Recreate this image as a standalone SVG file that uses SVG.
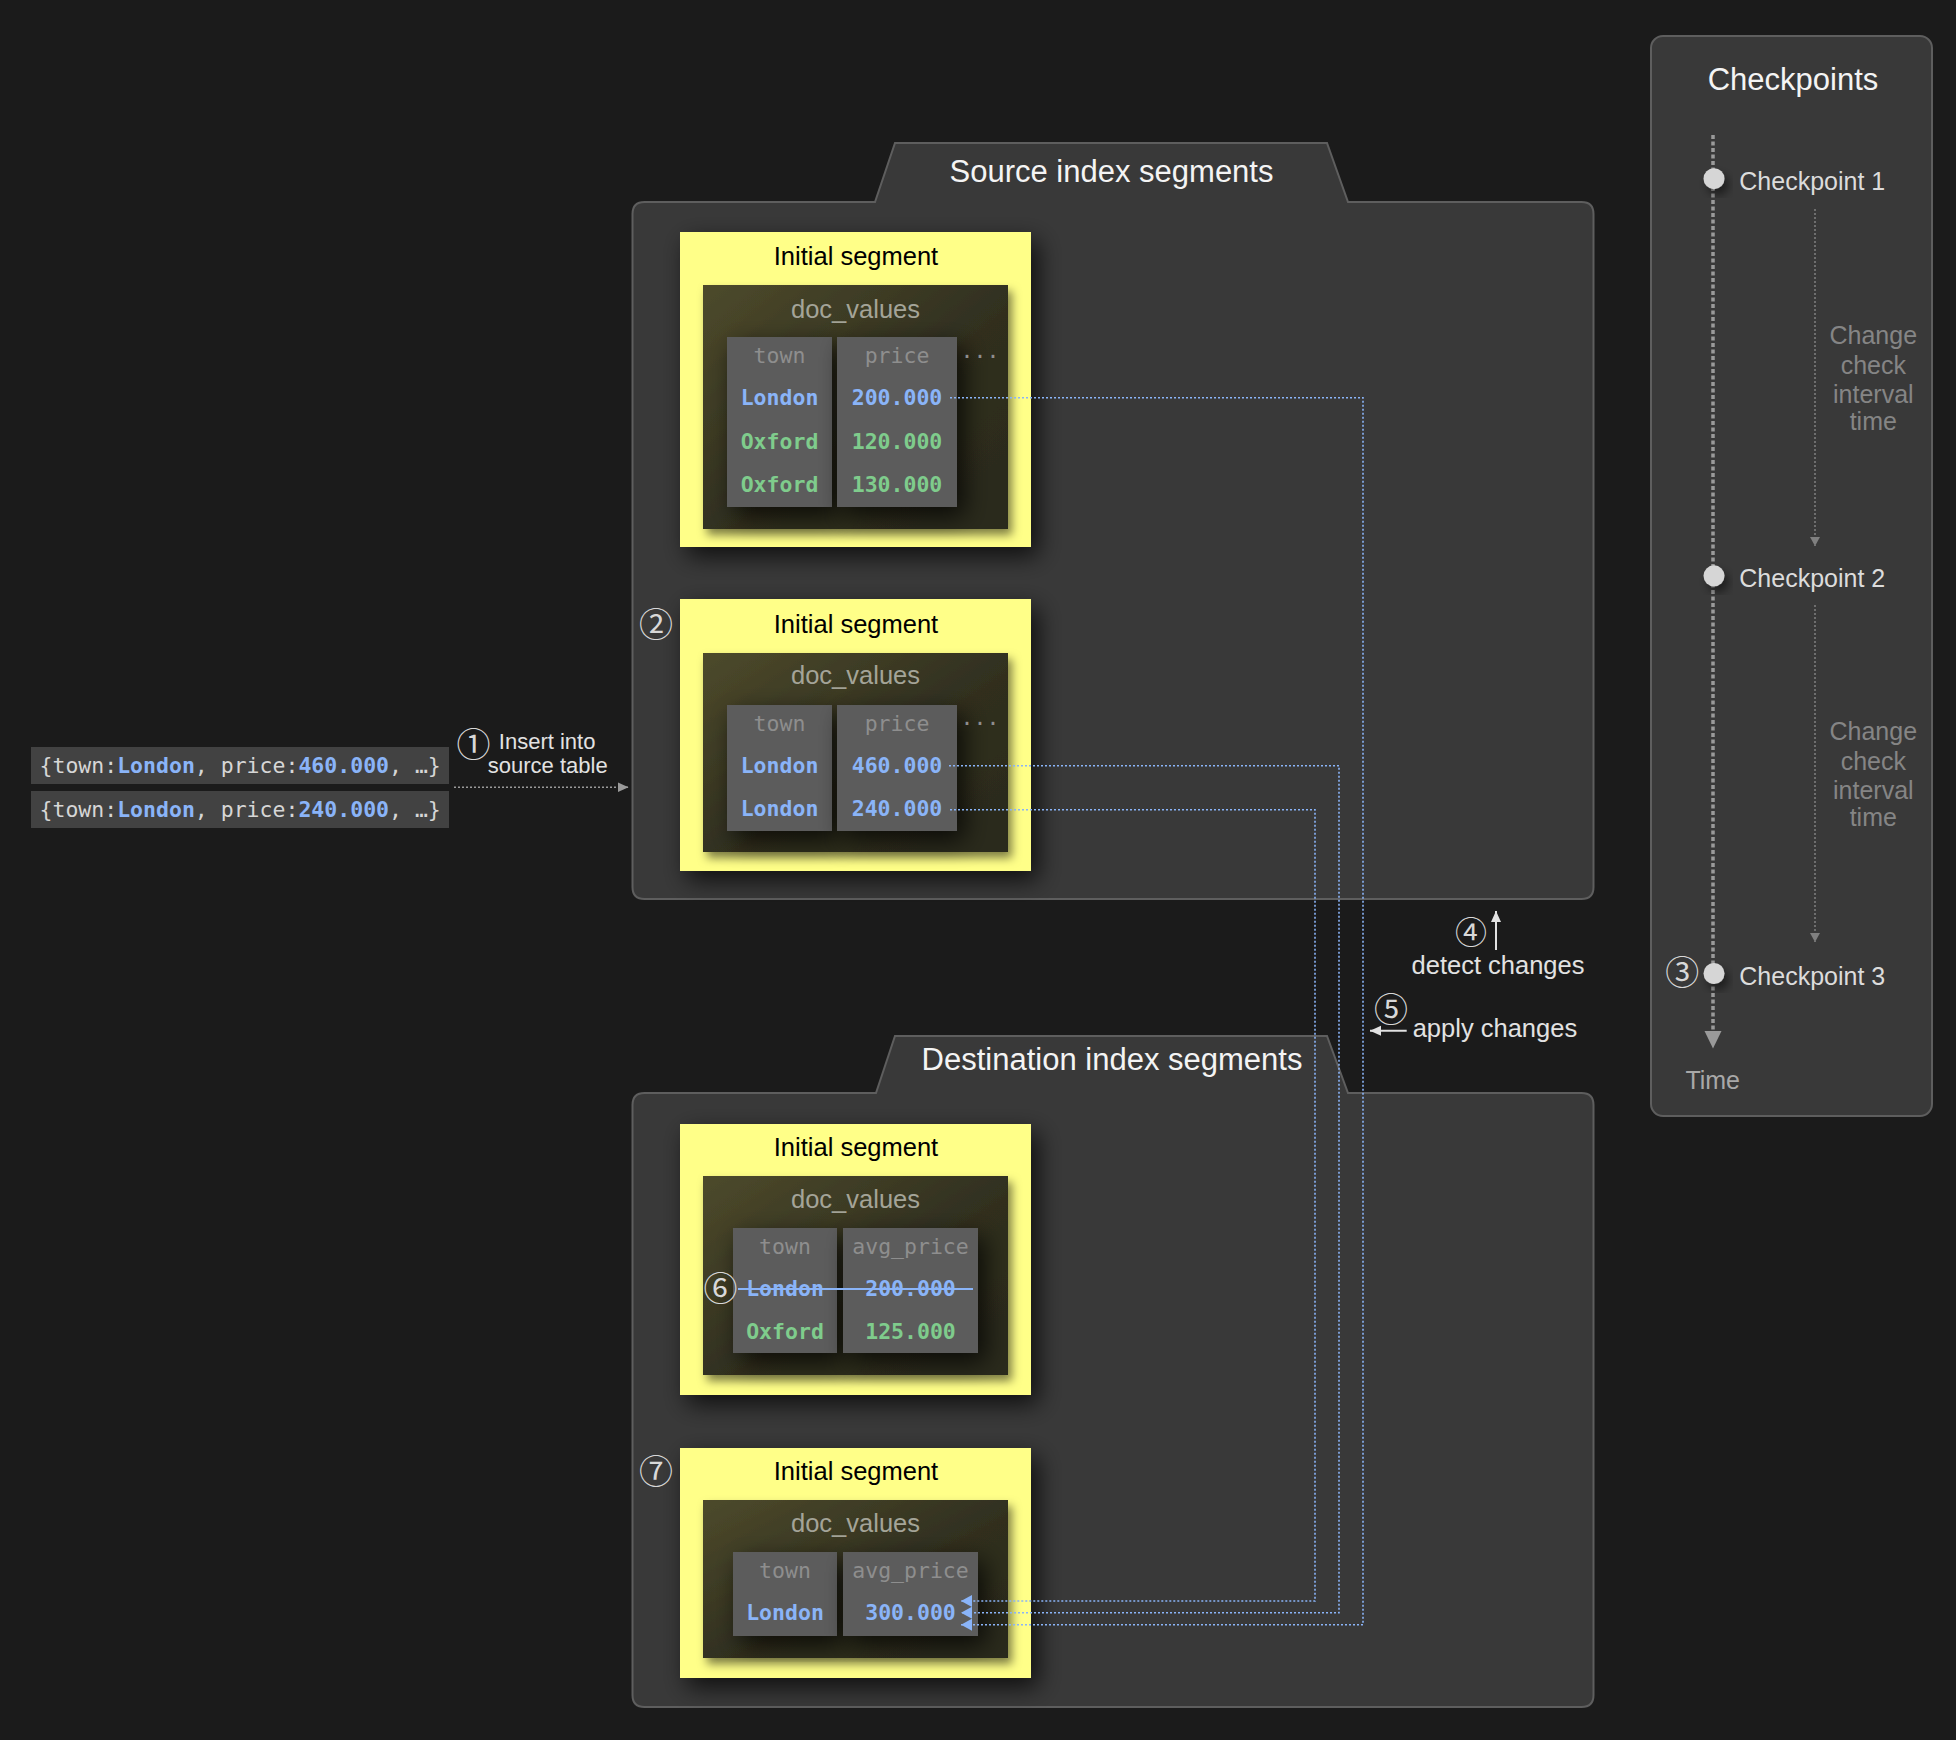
<svg xmlns="http://www.w3.org/2000/svg" width="1956" height="1740" viewBox="0 0 1956 1740">
<defs>
<style>
.sans{font-family:"Liberation Sans",Arial,"Noto Sans",sans-serif}
.mono{font-family:"DejaVu Sans Mono","Liberation Mono",monospace;font-size:21.5px}
.circ{font-family:"Noto Sans CJK SC","DejaVu Sans",sans-serif;font-size:34px;fill:#d8d8d8;text-anchor:middle}
.folder{fill:#393939;stroke:#5e5e5e;stroke-width:2}
.ftitle{font-size:31px;fill:#f4f4f4;text-anchor:middle}
.yellow{fill:#ffff88}
.dark{fill:url(#darkg)}
.col{fill:#5c5c5c}
.segt{font-size:25.5px;fill:#000;text-anchor:middle}
.dv{font-size:25.5px;fill:#a4a498;text-anchor:middle}
.hdr{fill:#8e8e8e;text-anchor:middle}
.blue{fill:#8ab4f8;font-weight:bold}
.green{fill:#7fcc8c;font-weight:bold}
.vals{text-anchor:middle}
.conn{fill:none;stroke:#8ab4f8;stroke-width:1.6;stroke-dasharray:2 2}
.lbl{font-size:25.5px;fill:#e2e2e2}
.cp{font-size:25px;fill:#dcdcdc}
.ccit{font-size:25px;fill:#858585;text-anchor:middle}
.rec{fill:#424242}
.rect{fill:#d6d6d6}
</style>
<linearGradient id="darkg" x1="0" y1="0" x2="1" y2="1">
<stop offset="0" stop-color="#4d4a2b"/>
<stop offset="0.55" stop-color="#302f1f"/>
<stop offset="1" stop-color="#2a2a1d"/>
</linearGradient>
<filter id="sh" x="-30%" y="-30%" width="160%" height="160%">
<feDropShadow dx="7" dy="9" stdDeviation="12" flood-color="#000" flood-opacity="0.75"/>
</filter>
<filter id="shs" x="-40%" y="-40%" width="180%" height="180%">
<feDropShadow dx="4" dy="6" stdDeviation="5" flood-color="#000" flood-opacity="0.5"/>
</filter>
<marker id="ab" markerUnits="userSpaceOnUse" markerWidth="12" markerHeight="12" refX="11" refY="6" orient="auto">
<path d="M0,0 L11,6 L0,12 Z" fill="#8ab4f8"/>
</marker>
<marker id="ag" markerUnits="userSpaceOnUse" markerWidth="12" markerHeight="12" refX="11" refY="5" orient="auto">
<path d="M0,0 L11,5 L0,10 Z" fill="#9a9a9a"/>
</marker>
<marker id="agc" markerUnits="userSpaceOnUse" markerWidth="12" markerHeight="12" refX="9" refY="5" orient="auto">
<path d="M0,0 L9,5 L0,10 Z" fill="#808080"/>
</marker>
<marker id="aw" markerUnits="userSpaceOnUse" markerWidth="14" markerHeight="14" refX="11" refY="5" orient="auto">
<path d="M0,0 L11,5 L0,10 Z" fill="#e2e2e2"/>
</marker>
</defs>

<rect x="0" y="0" width="1956" height="1740" fill="#1b1b1b"/>

<g id="source-folder">
<path class="folder" d="M644.5,202 L875,202 L895,143 L1327,143 L1348,202 L1581.5,202 Q1593.5,202 1593.5,214 L1593.5,887 Q1593.5,899 1581.5,899 L644.5,899 Q632.5,899 632.5,887 L632.5,214 Q632.5,202 644.5,202 Z"/>
<text class="sans ftitle" x="1111.5" y="181.5">Source index segments</text>
</g>

<g id="dest-folder">
<path class="folder" d="M644.5,1093 L876,1093 L895,1036 L1327,1036 L1348,1093 L1581.5,1093 Q1593.5,1093 1593.5,1105 L1593.5,1695 Q1593.5,1707 1581.5,1707 L644.5,1707 Q632.5,1707 632.5,1695 L632.5,1105 Q632.5,1093 644.5,1093 Z"/>
<text class="sans ftitle" x="1112" y="1070">Destination index segments</text>
</g>

<g id="src-seg-1">
<rect class="yellow" x="680" y="232" width="351" height="315" filter="url(#sh)"/>
<text class="sans segt" x="856" y="265">Initial segment</text>
<rect class="dark" x="703" y="285" width="305" height="244" filter="url(#shs)"/>
<text class="sans dv" x="855.5" y="318">doc_values</text>
<rect class="col" x="727" y="337" width="105" height="170" filter="url(#sh)"/>
<rect class="col" x="837" y="337" width="120" height="170" filter="url(#sh)"/>
<text class="mono hdr" x="779.5" y="363">town</text>
<text class="mono hdr" x="897" y="363">price</text>
<text class="mono hdr" x="980" y="358">...</text>
<text class="mono vals blue" x="779.5" y="405">London</text>
<text class="mono vals blue" x="897" y="405">200.000</text>
<text class="mono vals green" x="779.5" y="448.5">Oxford</text>
<text class="mono vals green" x="897" y="448.5">120.000</text>
<text class="mono vals green" x="779.5" y="492">Oxford</text>
<text class="mono vals green" x="897" y="492">130.000</text>
</g>

<g id="src-seg-2">
<rect class="yellow" x="680" y="599" width="351" height="272" filter="url(#sh)"/>
<text class="sans segt" x="856" y="632.5">Initial segment</text>
<rect class="dark" x="703" y="653" width="305" height="199" filter="url(#shs)"/>
<text class="sans dv" x="855.5" y="684">doc_values</text>
<rect class="col" x="727" y="705" width="105" height="126" filter="url(#sh)"/>
<rect class="col" x="837" y="705" width="120" height="126" filter="url(#sh)"/>
<text class="mono hdr" x="779.5" y="731">town</text>
<text class="mono hdr" x="897" y="731">price</text>
<text class="mono hdr" x="980" y="725">...</text>
<text class="mono vals blue" x="779.5" y="773">London</text>
<text class="mono vals blue" x="897" y="773">460.000</text>
<text class="mono vals blue" x="779.5" y="816">London</text>
<text class="mono vals blue" x="897" y="816">240.000</text>
<text class="circ" x="656" y="637">②</text>
</g>

<g id="dst-seg-1">
<rect class="yellow" x="680" y="1124" width="351" height="271" filter="url(#sh)"/>
<text class="sans segt" x="856" y="1156">Initial segment</text>
<rect class="dark" x="703" y="1176" width="305" height="199" filter="url(#shs)"/>
<text class="sans dv" x="855.5" y="1207.5">doc_values</text>
<rect class="col" x="733" y="1228" width="104" height="125" filter="url(#sh)"/>
<rect class="col" x="843" y="1228" width="135" height="125" filter="url(#sh)"/>
<text class="mono hdr" x="785" y="1254">town</text>
<text class="mono hdr" x="910.5" y="1254">avg_price</text>
<text class="mono vals blue" x="785" y="1296">London</text>
<text class="mono vals blue" x="910.5" y="1296">200.000</text>
<line x1="738" y1="1289" x2="973" y2="1289" stroke="#8ab4f8" stroke-width="2"/>
<text class="mono vals green" x="785" y="1339">Oxford</text>
<text class="mono vals green" x="910.5" y="1339">125.000</text>
<text class="circ" x="720.5" y="1300.5">⑥</text>
</g>

<g id="dst-seg-2">
<rect class="yellow" x="680" y="1448" width="351" height="230" filter="url(#sh)"/>
<text class="sans segt" x="856" y="1480">Initial segment</text>
<rect class="dark" x="703" y="1500" width="305" height="158" filter="url(#shs)"/>
<text class="sans dv" x="855.5" y="1531.5">doc_values</text>
<rect class="col" x="733" y="1552" width="104" height="84" filter="url(#sh)"/>
<rect class="col" x="843" y="1552" width="135" height="84" filter="url(#sh)"/>
<text class="mono hdr" x="785" y="1577.5">town</text>
<text class="mono hdr" x="910.5" y="1577.5">avg_price</text>
<text class="mono vals blue" x="785" y="1619.5">London</text>
<text class="mono vals blue" x="910.5" y="1619.5">300.000</text>
<text class="circ" x="656" y="1484">⑦</text>
</g>

<g id="records">
<g id="record-1">
<rect class="rec" x="31" y="747" width="418" height="37"/>
<text class="mono rect" x="39.5" y="772.5">{town:<tspan class="blue">London</tspan>, price:<tspan class="blue">460.000</tspan>, …}</text>
</g>
<g id="record-2">
<rect class="rec" x="31" y="791" width="418" height="37"/>
<text class="mono rect" x="39.5" y="816.5">{town:<tspan class="blue">London</tspan>, price:<tspan class="blue">240.000</tspan>, …}</text>
</g>
</g>

<g id="insert-label">
<text class="circ" x="473.5" y="756.5">①</text>
<text class="sans" font-size="22" fill="#e2e2e2" x="498.8" y="749.3">Insert into</text>
<text class="sans" font-size="22" fill="#e2e2e2" x="487.8" y="772.7">source table</text>
</g>

<g id="checkpoints">
<rect x="1651" y="36" width="281" height="1080" rx="12" fill="#393939" stroke="#5e5e5e" stroke-width="2"/>
<text class="sans" font-size="31" fill="#f4f4f4" text-anchor="middle" x="1793" y="89.5">Checkpoints</text>
<line x1="1713" y1="135" x2="1713" y2="1034" stroke="#9a9a9a" stroke-width="3.5" stroke-dasharray="4 2.5"/>
<path d="M1704.5,1031 L1721.5,1031 L1713,1048.5 Z" fill="#9a9a9a"/>
<circle cx="1714" cy="178.7" r="10.5" fill="#d6d6d6" filter="url(#shs)"/>
<circle cx="1714" cy="575.8" r="10.5" fill="#d6d6d6" filter="url(#shs)"/>
<circle cx="1714" cy="973.5" r="10.5" fill="#d6d6d6" filter="url(#shs)"/>
<text class="sans cp" x="1739.3" y="190">Checkpoint 1</text>
<text class="sans cp" x="1739.3" y="587.3">Checkpoint 2</text>
<text class="sans cp" x="1739.3" y="985">Checkpoint 3</text>
<line x1="1815" y1="209" x2="1815" y2="546" stroke="#808080" stroke-width="1.5" stroke-dasharray="2 2" marker-end="url(#agc)"/>
<line x1="1815" y1="605" x2="1815" y2="942" stroke="#808080" stroke-width="1.5" stroke-dasharray="2 2" marker-end="url(#agc)"/>
<text class="sans ccit" x="1873.3" y="344">Change</text>
<text class="sans ccit" x="1873.3" y="373.5">check</text>
<text class="sans ccit" x="1873.3" y="402.5">interval</text>
<text class="sans ccit" x="1873.3" y="430">time</text>
<text class="sans ccit" x="1873.3" y="740">Change</text>
<text class="sans ccit" x="1873.3" y="769.5">check</text>
<text class="sans ccit" x="1873.3" y="798.5">interval</text>
<text class="sans ccit" x="1873.3" y="826">time</text>
<text class="circ" x="1682.3" y="985">③</text>
<text class="sans" font-size="25" fill="#a8a8a8" text-anchor="middle" x="1712.7" y="1089">Time</text>
</g>

<g id="change-labels">
<text class="circ" x="1471" y="944" style="font-size:32px">④</text>
<line x1="1496" y1="950" x2="1496" y2="911" stroke="#e2e2e2" stroke-width="2" marker-end="url(#aw)"/>
<text class="sans lbl" x="1498" y="974" text-anchor="middle">detect changes</text>
<text class="circ" x="1391" y="1022">⑤</text>
<line x1="1406.7" y1="1030.7" x2="1370" y2="1030.7" stroke="#e2e2e2" stroke-width="2" marker-end="url(#aw)"/>
<text class="sans lbl" x="1412.7" y="1036.7">apply changes</text>
</g>

<g id="connectors">
<line x1="454" y1="787.3" x2="628.5" y2="787.3" stroke="#9a9a9a" stroke-width="1.6" stroke-dasharray="2 2" marker-end="url(#ag)"/>
<path class="conn" d="M950,397.7 L1363,397.7 L1363,1624.7 L961,1624.7" marker-end="url(#ab)"/>
<path class="conn" d="M949,765.7 L1339,765.7 L1339,1612.7 L961,1612.7" marker-end="url(#ab)"/>
<path class="conn" d="M950,809.7 L1315,809.7 L1315,1601 L961,1601" marker-end="url(#ab)"/>
</g>
</svg>
